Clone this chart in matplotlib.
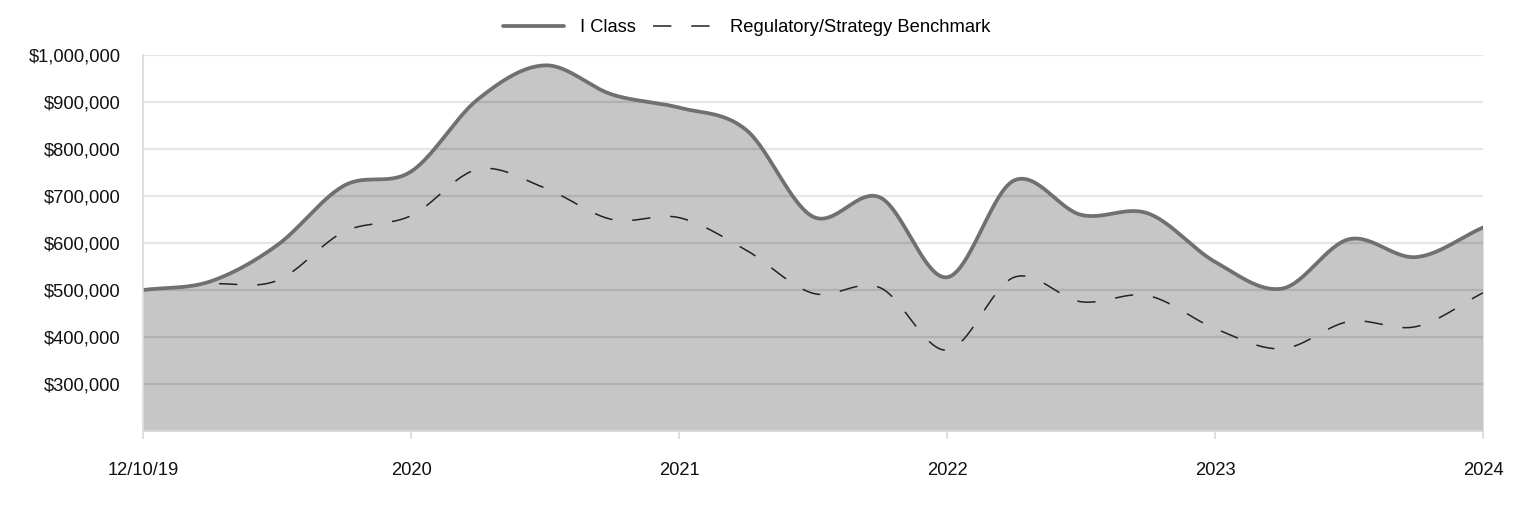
import numpy as np
import matplotlib.pyplot as plt
from matplotlib.ticker import FuncFormatter

plt.rcParams['font.family'] = ['Liberation Sans', 'DejaVu Sans']

# quarterly points, 12/10/19 .. 2024
quarters = np.arange(21)
i_class = [500000, 518000, 595000, 722000, 752000, 906000, 978000, 916000,
           888000, 841000, 656000, 697000, 527000, 733000, 660000, 663000,
           560000, 503000, 608000, 570000, 633000]
benchmark = [500000, 513000, 520000, 624000, 658000, 757000, 717000, 650000,
             654000, 585000, 493000, 505000, 372000, 527000, 475000, 488000,
             418000, 375000, 433000, 422000, 494000]
tick_pos = [0, 4, 8, 12, 16, 20]
tick_labels = ['12/10/19', '2020', '2021', '2022', '2023', '2024']
y_ticks = [300000, 400000, 500000, 600000, 700000, 800000, 900000, 1000000]


def smooth(x, y, n=30):
    # catmull-rom through the points
    x = np.asarray(x, float)
    y = np.asarray(y, float)
    p = np.concatenate([[2 * y[0] - y[1]], y, [2 * y[-1] - y[-2]]])
    m = (p[2:] - p[:-2]) / 2
    t = np.linspace(0, 1, n, endpoint=False)
    h00 = 2 * t**3 - 3 * t**2 + 1
    h10 = t**3 - 2 * t**2 + t
    h01 = -2 * t**3 + 3 * t**2
    h11 = t**3 - t**2
    xs, ys = [], []
    for k in range(len(y) - 1):
        xs.append(x[k] + t * (x[k + 1] - x[k]))
        ys.append(h00 * y[k] + h10 * m[k] + h01 * y[k + 1] + h11 * m[k + 1])
    xs.append([x[-1]])
    ys.append([y[-1]])
    return np.concatenate(xs), np.concatenate(ys)


fig = plt.figure(figsize=(15.24, 5.16), dpi=100)
ax = fig.add_axes([143 / 1524, 1 - 431 / 516, 1340 / 1524, 376 / 516])

xs, ys = smooth(quarters, i_class)
xb, yb = smooth(quarters, benchmark)

ax.fill_between(xs, ys, 200000, color='#c6c6c6', lw=0, zorder=1)
for v in y_ticks:
    ax.axhline(v, color='black', alpha=0.1, lw=1.6, zorder=2)
ax.plot(xs, ys, color='#707070', lw=2.7, label='I Class', zorder=4,
        solid_capstyle='round')
bl, = ax.plot(xb, yb, color='#222222', lw=1.1, label='Regulatory/Strategy Benchmark',
              zorder=3)
bl.set_dashes((12, 13))

ax.set_xlim(0, 20)
ax.set_ylim(200000, 1000000)
ax.set_xticks(tick_pos)
ax.set_xticklabels(tick_labels)
ax.set_yticks(y_ticks)
ax.yaxis.set_major_formatter(FuncFormatter(lambda v, p: '${:,.0f}'.format(v)))

for s in ['top', 'right']:
    ax.spines[s].set_visible(False)
for s in ['left', 'bottom']:
    ax.spines[s].set_color('#d9d9d9')
    ax.spines[s].set_linewidth(1.2)
    ax.spines[s].set_zorder(5)
ax.tick_params(axis='x', length=6, width=1.2, color='#d9d9d9', pad=16,
               labelsize=13.2, labelcolor='#111111')
ax.tick_params(axis='y', length=0, pad=16, labelsize=13.2, labelcolor='#111111')

fig.legend(loc='center', bbox_to_anchor=(0.49, 0.946), ncol=2, frameon=False,
           fontsize=13.2, handlelength=3.3, handletextpad=0.87, columnspacing=0.95)

fig.savefig('out.png', dpi=100)
